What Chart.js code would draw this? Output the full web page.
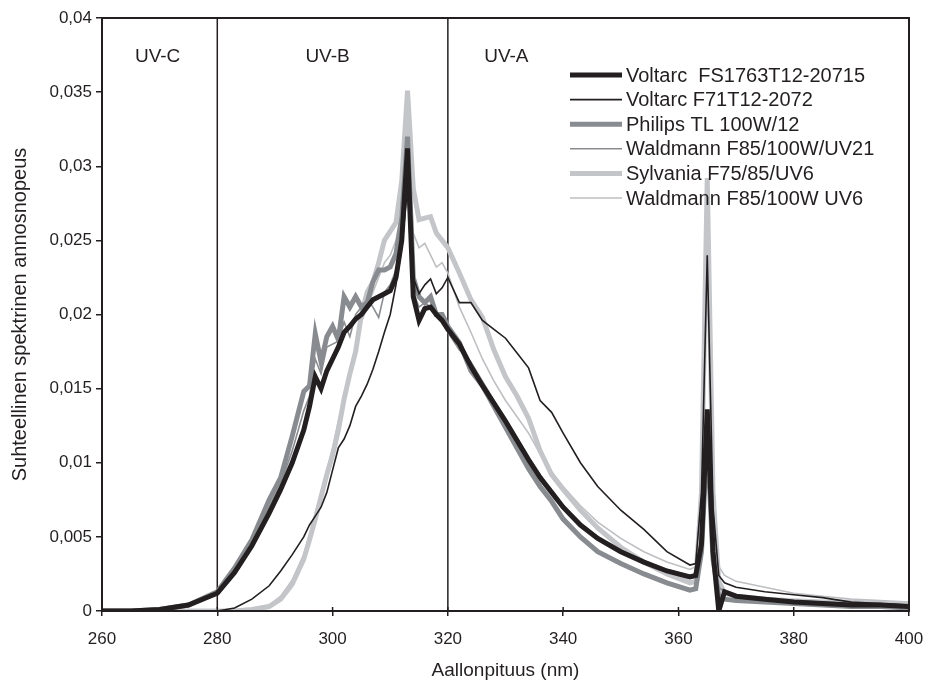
<!DOCTYPE html>
<html>
<head>
<meta charset="utf-8">
<script src="https://cdn.jsdelivr.net/npm/chart.js@4.4.1/dist/chart.umd.min.js"></script>
<style>
  html, body { margin: 0; padding: 0; background: #fff; }
  canvas { display: block; }
</style>
</head>
<body>
<canvas id="uvChart" width="929" height="686"></canvas>
<script>
// Spectral irradiance of UV lamps, 260-400 nm

const wavelengths = [260, 265, 270, 275, 280, 283, 286, 289, 291, 293, 295, 296, 297, 298, 299,
  300, 301, 302, 303, 304, 305, 306, 307, 308, 309, 310, 311, 312, 313, 314, 315, 316, 317, 318, 319,
  320, 322, 324, 326, 328, 330, 332, 334, 336, 338, 340, 343, 346, 350, 354, 358, 362, 363, 364, 365,
  366, 367, 368, 370, 375, 380, 385, 390, 395, 400];

const voltarcFS = [0, 0, 0.0001, 0.0004, 0.0012, 0.0026, 0.0044, 0.0066, 0.0082, 0.0100, 0.0122, 0.0138, 0.0158, 0.0150, 0.0162,
  0.0170, 0.0178, 0.0188, 0.0192, 0.0197, 0.0200, 0.0205, 0.0210, 0.0212, 0.0214, 0.0216, 0.0225, 0.0250, 0.0312, 0.0212, 0.0196, 0.0204, 0.0205, 0.0200, 0.0196,
  0.0190, 0.0180, 0.0165, 0.0152, 0.0140, 0.0128, 0.0115, 0.0102, 0.0090, 0.0080, 0.0070, 0.0058, 0.0049, 0.0040, 0.0033, 0.0027, 0.0023, 0.0024, 0.0045, 0.0136,
  0.0040, 0.0000, 0.0013, 0.0010, 0.0008, 0.0006, 0.0005, 0.0004, 0.0004, 0.0003];

const voltarcF71 = [0, 0, 0, 0, 0, 0.0002, 0.0008, 0.0017, 0.0027, 0.0038, 0.0050, 0.0058, 0.0064, 0.0070, 0.0080,
  0.0095, 0.0110, 0.0116, 0.0125, 0.0138, 0.0145, 0.0153, 0.0163, 0.0175, 0.0188, 0.0200, 0.0220, 0.0245, 0.0285, 0.0225, 0.0214, 0.0220, 0.0224, 0.0214, 0.0218,
  0.0225, 0.0208, 0.0208, 0.0196, 0.0190, 0.0184, 0.0174, 0.0164, 0.0142, 0.0134, 0.0120, 0.0100, 0.0084, 0.0068, 0.0055, 0.0040, 0.0031, 0.0032, 0.0080, 0.0240,
  0.0070, 0.0024, 0.0019, 0.0016, 0.0013, 0.0011, 0.0009, 0.0006, 0.0005, 0.0004];

const philips = [0, 0, 0.0001, 0.0004, 0.0013, 0.0029, 0.0048, 0.0075, 0.0090, 0.0118, 0.0148, 0.0152, 0.0187, 0.0168, 0.0185,
  0.0192, 0.0183, 0.0212, 0.0205, 0.0212, 0.0205, 0.0208, 0.0222, 0.0230, 0.0230, 0.0232, 0.0241, 0.0265, 0.0320, 0.0225, 0.0212, 0.0208, 0.0212, 0.0200, 0.0200,
  0.0192, 0.0181, 0.0162, 0.0152, 0.0138, 0.0124, 0.0110, 0.0096, 0.0084, 0.0074, 0.0062, 0.0050, 0.0040, 0.0032, 0.0025, 0.0019, 0.0014, 0.0015, 0.0040, 0.0118,
  0.0035, 0.0010, 0.0008, 0.0007, 0.0006, 0.0005, 0.0004, 0.0003, 0.0003, 0.0002];

const waldmannUV21 = [0, 0, 0.0001, 0.0004, 0.0012, 0.0027, 0.0046, 0.0070, 0.0086, 0.0108, 0.0135, 0.0145, 0.0170, 0.0160, 0.0178,
  0.0180, 0.0182, 0.0195, 0.0185, 0.0200, 0.0205, 0.0210, 0.0205, 0.0198, 0.0215, 0.0220, 0.0230, 0.0255, 0.0300, 0.0215, 0.0205, 0.0208, 0.0205, 0.0200, 0.0195,
  0.0188, 0.0176, 0.0168, 0.0155, 0.0142, 0.0130, 0.0117, 0.0104, 0.0092, 0.0081, 0.0071, 0.0059, 0.0050, 0.0041, 0.0034, 0.0028, 0.0024, 0.0025, 0.0040, 0.0110,
  0.0035, 0.0016, 0.0013, 0.0011, 0.0008, 0.0007, 0.0006, 0.0005, 0.0004, 0.0004];

const sylvania = [0, 0, 0, 0, 0, 0, 0.0001, 0.0003, 0.0008, 0.0018, 0.0035, 0.0048, 0.0062, 0.0077, 0.0092,
  0.0105, 0.0122, 0.0143, 0.0160, 0.0175, 0.0200, 0.0215, 0.0222, 0.0235, 0.0250, 0.0256, 0.0262, 0.0290, 0.0351, 0.0285, 0.0264, 0.0265, 0.0266, 0.0255, 0.0250,
  0.0245, 0.0228, 0.0210, 0.0198, 0.0176, 0.0158, 0.0145, 0.0130, 0.0108, 0.0092, 0.0082, 0.0068, 0.0056, 0.0043, 0.0033, 0.0025, 0.0019, 0.0020, 0.0080, 0.0292,
  0.0080, 0.0020, 0.0012, 0.0010, 0.0008, 0.0007, 0.0006, 0.0006, 0.0005, 0.0005];

const waldmannUV6 = [0, 0, 0, 0, 0, 0, 0.0001, 0.0004, 0.0010, 0.0021, 0.0038, 0.0052, 0.0066, 0.0080, 0.0095,
  0.0110, 0.0128, 0.0145, 0.0160, 0.0178, 0.0195, 0.0205, 0.0215, 0.0225, 0.0235, 0.0240, 0.0250, 0.0270, 0.0325, 0.0255, 0.0245, 0.0248, 0.0240, 0.0232, 0.0235,
  0.0228, 0.0205, 0.0188, 0.0170, 0.0155, 0.0142, 0.0131, 0.0120, 0.0106, 0.0094, 0.0084, 0.0071, 0.0060, 0.0049, 0.0040, 0.0033, 0.0028, 0.0030, 0.0080, 0.0280,
  0.0080, 0.0030, 0.0024, 0.0020, 0.0016, 0.0012, 0.0010, 0.0008, 0.0007, 0.0006];

const seriesNames = ['Voltarc  FS1763T12-20715', 'Voltarc F71T12-2072', 'Philips TL 100W/12',
  'Waldmann F85/100W/UV21', 'Sylvania F75/85/UV6', 'Waldmann F85/100W UV6'];
const seriesValues = [voltarcFS, voltarcF71, philips, waldmannUV21, sylvania, waldmannUV6];

const yTickLabels = ['0', '0,005', '0,01', '0,015', '0,02', '0,025', '0,03', '0,035', '0,04'];
const bandEdges = [280, 320];
const bandLabels = ['UV-C', 'UV-B', 'UV-A'];

// styling
const INK = '#231f20';
const FONT = "'Liberation Sans', Arial, sans-serif";
const seriesColors = [INK, INK, '#888b8f', '#8a8c90', '#c3c5c9', '#bdbfc2'];
const seriesWidths = [5, 1.6, 5, 1.6, 5, 1.6];

Chart.defaults.font.family = FONT;
Chart.defaults.color = INK;

const datasets = seriesNames.map((name, i) => ({
  label: name,
  data: wavelengths.map((w, j) => ({ x: w, y: seriesValues[i][j] })),
  borderColor: seriesColors[i],
  backgroundColor: seriesColors[i],
  borderWidth: seriesWidths[i],
  pointRadius: 0,
  tension: 0,
  fill: false
}));

// band lines, labels, frame and the in-plot legend
const overlay = {
  id: 'overlay',
  beforeDatasetsDraw(chart) {
    const { ctx, chartArea: a, scales: { x } } = chart;
    ctx.save();
    ctx.strokeStyle = INK;
    ctx.lineWidth = 1.5;
    bandEdges.forEach(v => {
      const px = x.getPixelForValue(v);
      ctx.beginPath();
      ctx.moveTo(px, a.top);
      ctx.lineTo(px, a.bottom);
      ctx.stroke();
    });
    ctx.fillStyle = INK;
    ctx.font = '19px ' + FONT;
    ctx.textAlign = 'center';
    ctx.textBaseline = 'middle';
    const edges = [x.min, ...bandEdges];
    bandLabels.forEach((t, i) => {
      const lo = x.getPixelForValue(edges[i]);
      const hi = i < bandEdges.length ? x.getPixelForValue(edges[i + 1]) : lo + 115;
      const off = i === 0 ? -2 : i === 1 ? -5 : 1;
      ctx.fillText(t, (lo + hi) / 2 + off, a.top + 39);
    });
    ctx.restore();
  },
  afterDatasetsDraw(chart) {
    const { ctx, chartArea: a, scales: { x } } = chart;
    ctx.save();
    ctx.strokeStyle = INK;
    ctx.lineWidth = 2;
    ctx.strokeRect(a.left, a.top, a.right - a.left, a.bottom - a.top);
    // x ticks poke a little into the plot
    ctx.lineWidth = 1.5;
    x.ticks.forEach(t => {
      const px = x.getPixelForValue(t.value);
      ctx.beginPath();
      ctx.moveTo(px, a.bottom - 4);
      ctx.lineTo(px, a.bottom);
      ctx.stroke();
    });
    // legend
    ctx.font = '20px ' + FONT;
    ctx.textBaseline = 'middle';
    ctx.textAlign = 'left';
    const lx = 570, ly = 75, gap = 24.6;
    seriesNames.forEach((name, i) => {
      const y = ly + i * gap;
      ctx.strokeStyle = seriesColors[i];
      ctx.lineWidth = seriesWidths[i];
      ctx.beginPath();
      ctx.moveTo(lx, y);
      ctx.lineTo(lx + 52, y);
      ctx.stroke();
      ctx.fillStyle = INK;
      ctx.fillText(name, lx + 56, y + 1);
    });
    ctx.restore();
  }
};

const chart = new Chart(document.getElementById('uvChart'), {
  type: 'line',
  data: { datasets },
  options: {
    responsive: false,
    animation: false,
    layout: { padding: { top: 18, right: 20, left: 0, bottom: 0 } },
    plugins: {
      legend: { display: false },
      tooltip: { enabled: false }
    },
    scales: {
      x: {
        type: 'linear',
        min: 260,
        max: 400,
        afterFit: s => { s.height = 75; s.paddingLeft = 0; s.paddingRight = 0; },
        border: { color: INK, width: 2 },
        grid: { drawOnChartArea: false, color: INK, tickLength: 5, lineWidth: 1.5 },
        ticks: { stepSize: 20, font: { size: 17 }, padding: 13, color: INK, callback: v => String(v) },
        title: { display: true, text: 'Aallonpituus (nm)', font: { size: 19 }, color: INK, padding: { top: 0 } }
      },
      y: {
        min: 0,
        max: 0.04,
        afterFit: s => { s.width = 102; },
        border: { color: INK, width: 2 },
        grid: { drawOnChartArea: false, color: INK, tickLength: 6, lineWidth: 1.5 },
        ticks: { stepSize: 0.005, font: { size: 17 }, padding: 4, color: INK, callback: (v, i) => yTickLabels[i] },
        title: { display: true, text: 'Suhteellinen spektrinen annosnopeus', font: { size: 20 }, color: INK, padding: { top: 8, bottom: 4 } }
      }
    }
  },
  plugins: [overlay]
});
</script>
</body>
</html>
